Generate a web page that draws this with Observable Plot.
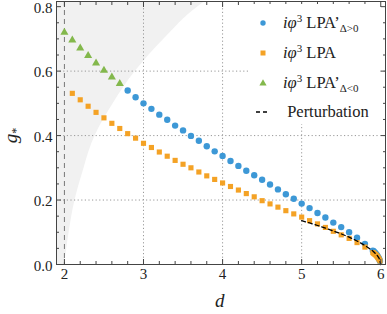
<!DOCTYPE html>
<html><head><meta charset="utf-8">
<script src="https://cdn.jsdelivr.net/npm/d3@7"></script>
<script src="https://cdn.jsdelivr.net/npm/@observablehq/plot@0.6"></script>
<style>
body{margin:0;background:#fff;}
#wrap{position:relative;width:387px;height:314px;font-family:"Liberation Serif","DejaVu Serif",serif;color:#222;}
.lab{position:absolute;font-style:italic;color:#222;line-height:1;}
#legend{position:absolute;left:248px;top:4px;width:131px;height:120px;background:#fff;}
.row{position:absolute;left:0;height:20px;display:flex;align-items:center;font-size:16.5px;white-space:nowrap;}
.row svg{flex:none;}
.row sup,.row sub{font-size:11px;line-height:0;}
.row sup{vertical-align:6px;}
.row sub{vertical-align:-4px;}
</style></head>
<body><div id="wrap"></div>
<script>
// ---- data ----
const dBlue = [2.8,2.9,3.0,3.1,3.2,3.3,3.4,3.5,3.6,3.7,3.8,3.9,4.0,4.1,4.2,4.3,4.4,4.5,4.6,4.7,4.8,4.9,5.0,5.1,5.2,5.3,5.4,5.5,5.6,5.7,5.8,5.9,5.91,5.92,5.93,5.94,5.95,5.96,5.97,5.98,5.99];
const gBlue = [0.540,0.519,0.500,0.483,0.465,0.449,0.431,0.416,0.399,0.384,0.367,0.351,0.337,0.321,0.306,0.291,0.277,0.263,0.248,0.233,0.218,0.204,0.189,0.175,0.160,0.146,0.130,0.116,0.100,0.083,0.064,0.043,0.041,0.038,0.036,0.033,0.030,0.026,0.022,0.017,0.011];
const dOrange = [2.1,2.2,2.3,2.4,2.5,2.6,2.7,2.8,2.9,3.0,3.1,3.2,3.3,3.4,3.5,3.6,3.7,3.8,3.9,4.0,4.1,4.2,4.3,4.4,4.5,4.6,4.7,4.8,4.9,5.0,5.1,5.2,5.3,5.4,5.5,5.6,5.7,5.8,5.9,5.91,5.92,5.93,5.94,5.95,5.96,5.97,5.98,5.99];
const gOrange = [0.531,0.511,0.491,0.472,0.455,0.438,0.422,0.406,0.392,0.376,0.363,0.349,0.336,0.323,0.311,0.300,0.287,0.275,0.264,0.253,0.242,0.231,0.220,0.210,0.198,0.188,0.178,0.167,0.157,0.147,0.136,0.126,0.115,0.103,0.092,0.081,0.068,0.054,0.037,0.035,0.033,0.031,0.029,0.026,0.023,0.020,0.016,0.011];
const dGreen = [2.0,2.1,2.2,2.3,2.4,2.5,2.6,2.7];
const gGreen = [0.720,0.696,0.671,0.648,0.625,0.602,0.581,0.561];
const dPert = [5.0,5.1,5.2,5.3,5.4,5.5,5.6,5.7,5.8,5.9,5.95,5.98,6.0];
const gPert = [0.136,0.129,0.121,0.113,0.104,0.095,0.085,0.073,0.059,0.042,0.030,0.019,0.0];
// boundary of shaded region (d as function of g)
const gBound = [0,0.05,0.1,0.2,0.3,0.35,0.4,0.5,0.55,0.6,0.7,0.8,0.816];
const dBound = [2.0,2.03,2.06,2.135,2.25,2.31,2.39,2.62,2.75,2.9,3.26,3.69,3.78];
const xTicks = [2,3,4,5,6];
const yTicks = [0,0.2,0.4,0.6,0.8];
const xMinor = [2.2,2.4,2.6,2.8,3.2,3.4,3.6,3.8,4.2,4.4,4.6,4.8,5.2,5.4,5.6,5.8];
const yMinor = [0.05,0.1,0.15,0.25,0.3,0.35,0.45,0.5,0.55,0.65,0.7,0.75];
const xGrid = [3,4,5];
const yGrid = [0.2,0.4,0.6];
const xDomain = [1.9, 6.06];
const yDomain = [0, 0.816];

const zip = (xs, ys) => xs.map((d, i) => ({d, g: ys[i]}));
const blue = zip(dBlue, gBlue), orange = zip(dOrange, gOrange), green = zip(dGreen, gGreen);
const pert = zip(dPert, gPert), bound = zip(dBound, gBound);

const cBlue = "#3d98d6", cOrange = "#f4a225", cGreen = "#83b84c";
const axc = "#444";

const plot = Plot.plot({
  width: 387, height: 314,
  marginLeft: 56, marginRight: 2, marginTop: 1, marginBottom: 50,
  x: {domain: xDomain, axis: null},
  y: {domain: yDomain, axis: null},
  style: {fontFamily: '"Liberation Serif","DejaVu Serif",serif', fontSize: "15px", color: "#222", background: "#fff"},
  marks: [
    Plot.areaX(bound, {y: "g", x1: xDomain[0], x2: "d", fill: "#f1f1f1", curve: "monotone-y"}),
    Plot.gridX(xGrid, {stroke: "#999", strokeOpacity: 1, strokeDasharray: "1.2,2.4"}),
    Plot.gridY(yGrid, {stroke: "#999", strokeOpacity: 1, strokeDasharray: "1.2,2.4"}),
    Plot.ruleX([xTicks[0]], {stroke: "#777", strokeDasharray: "5,4"}),
    Plot.dot(blue, {x: "d", y: "g", r: 3.2, fill: cBlue}),
    Plot.dot(orange, {x: "d", y: "g", r: 2.9, symbol: "square", fill: cOrange}),
    Plot.dot(green, {x: "d", y: "g", r: 3.0, symbol: "triangle", fill: cGreen}),
    Plot.line(pert, {x: "d", y: "g", stroke: "#000", strokeWidth: 1.3, strokeDasharray: "4,3"}),
    Plot.frame({stroke: axc}),
    // bottom axis
    Plot.axisX(xTicks, {anchor: "bottom", tickSize: 0, tickPadding: 4, label: null, fill: "#222"}),
    Plot.axisX(xTicks, {anchor: "bottom", tickSize: -5, tickFormat: () => "", label: null, stroke: axc}),
    Plot.axisX(xMinor, {anchor: "bottom", tickSize: -3, tickFormat: () => "", label: null, stroke: axc}),
    Plot.axisX(xTicks, {anchor: "top", tickSize: -5, tickFormat: () => "", label: null, stroke: axc}),
    Plot.axisX(xMinor, {anchor: "top", tickSize: -3, tickFormat: () => "", label: null, stroke: axc}),
    // left axis
    Plot.axisY(yTicks, {anchor: "left", tickSize: 0, tickPadding: 4, dy: 1.5, tickFormat: d3.format(".1f"), label: null, fill: "#222"}),
    Plot.axisY(yTicks, {anchor: "left", tickSize: -5, tickFormat: () => "", label: null, stroke: axc}),
    Plot.axisY(yMinor, {anchor: "left", tickSize: -3, tickFormat: () => "", label: null, stroke: axc}),
    Plot.axisY(yTicks, {anchor: "right", tickSize: -5, tickFormat: () => "", label: null, stroke: axc}),
    Plot.axisY(yMinor, {anchor: "right", tickSize: -3, tickFormat: () => "", label: null, stroke: axc})
  ]
});
const wrap = document.getElementById("wrap");
plot.style.position = "absolute"; plot.style.left = "0"; plot.style.top = "0";
wrap.appendChild(plot);

// axis labels
const xl = document.createElement("div");
xl.className = "lab"; xl.style.fontSize = "19px";
xl.style.left = "215px"; xl.style.top = "291px";
xl.textContent = "d";
wrap.appendChild(xl);
const yl = document.createElement("div");
yl.className = "lab"; yl.style.fontSize = "19px";
yl.style.left = "3px"; yl.style.top = "126px";
yl.style.transform = "rotate(-90deg)"; yl.style.transformOrigin = "center";
yl.innerHTML = 'g<sub style="font-size:12px;font-style:normal;vertical-align:-3px;line-height:0">*</sub>';
wrap.appendChild(yl);

// legend
const legendItems = [
  {mark: `<circle cx="7" cy="7" r="2.7" fill="${cBlue}"/>`, html: '<i>iφ</i><sup>3</sup>&nbsp;LPA’<sub>Δ&gt;0</sub>', top: 13},
  {mark: `<rect x="4.5" y="4.5" width="5" height="5" fill="${cOrange}"/>`, html: '<i>iφ</i><sup>3</sup>&nbsp;LPA', top: 43},
  {mark: `<path d="M7,3.2 L10.6,9.4 L3.4,9.4 Z" fill="${cGreen}"/>`, html: '<i>iφ</i><sup>3</sup>&nbsp;LPA’<sub>Δ&lt;0</sub>', top: 73},
  {mark: `<line x1="0" y1="7" x2="14" y2="7" stroke="#000" stroke-width="1.3" stroke-dasharray="4,3"/>`, html: '&nbsp;Perturbation', top: 102}
];
const leg = document.createElement("div");
leg.id = "legend";
legendItems.forEach(it => {
  const r = document.createElement("div");
  r.className = "row";
  r.style.top = (it.top - 4) + "px";
  r.innerHTML = `<svg width="14" height="14" style="margin-left:8px;margin-right:13px">${it.mark}</svg><span>${it.html}</span>`;
  leg.appendChild(r);
});
wrap.appendChild(leg);
</script></body></html>
